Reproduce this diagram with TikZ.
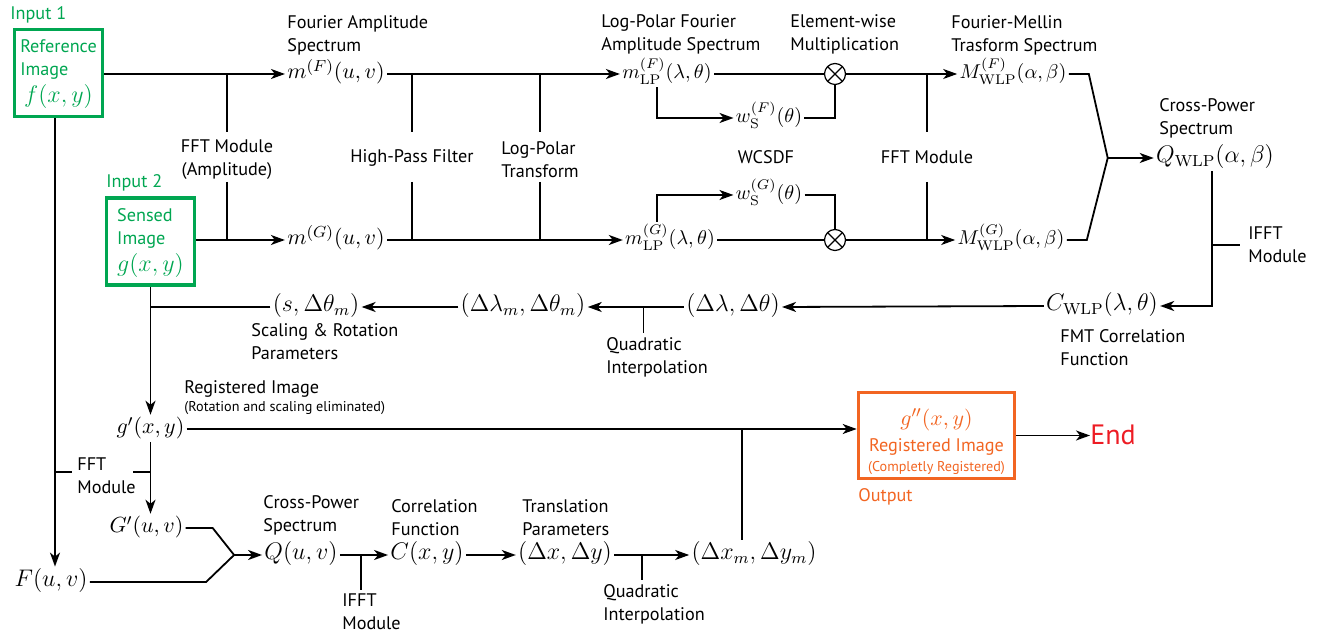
\documentclass[tikz,border=0pt]{standalone}
\usepackage{amsmath}
\usepackage[no-math]{fontspec}
\setmainfont{PT Sans}
\usetikzlibrary{arrows.meta,positioning,calc}
\definecolor{ingreen}{RGB}{0,166,81}
\definecolor{outorange}{RGB}{242,101,34}
\definecolor{endred}{RGB}{237,28,36}

\begin{document}
\begin{tikzpicture}[x=0.5pt,y=-0.5pt,
   every node/.style={inner sep=1pt},
   lbl/.style={font=\fontsize{9.1}{11.5}\selectfont,align=left,inner sep=0pt,anchor=west},
   clbl/.style={font=\fontsize{9.1}{11.5}\selectfont,align=center,inner sep=0pt},
   ma/.style={font=\fontsize{11}{13}\selectfont,anchor=mid},
   mb/.style={font=\fontsize{12}{14}\selectfont,anchor=mid},
   mc/.style={font=\fontsize{10}{12}\selectfont,anchor=mid},
   ln/.style={line width=0.9pt},
   arr/.style={ln,-{Stealth[length=7pt,width=5pt,inset=2pt]}},
   inbox/.style={draw=ingreen,line width=1.8pt,text=ingreen,minimum width=44pt,
                 minimum height=43.5pt,inner sep=0pt,font=\fontsize{9.1}{11.5}\selectfont},
   outbox/.style={draw=outorange,line width=1.8pt,text=outorange,minimum width=78pt,
                  minimum height=43pt,align=center,inner sep=0pt,font=\fontsize{9.1}{13}\selectfont},
   mult/.style={draw,line width=0.6pt,circle,minimum size=10.5pt,inner sep=0pt,
                path picture={\draw[line width=0.6pt]
                  (path picture bounding box.north west) -- (path picture bounding box.south east)
                  (path picture bounding box.north east) -- (path picture bounding box.south west);}}
]
\useasboundingbox (0,0) rectangle (1323,635);
\coordinate (stubtop) at (0,132);
\coordinate (stubbot) at (0,182);

% inputs
\node[inbox] (ref) at (58.5,73) {\begin{tabular}{@{}l@{}}Reference\\Image\\[1pt]
   \multicolumn{1}{@{}c@{}}{\fontsize{12.5}{14}\selectfont$f(x,y)$}\end{tabular}};
\node[lbl,text=ingreen] (in1) at (10,15) {Input 1};
\node[inbox] (sens) at (150.5,241.5) {\begin{tabular}{@{}l@{}}Sensed\\Image\\[1pt]
   {\fontsize{12.5}{14}\selectfont$g(x,y)$}\end{tabular}};
\node[lbl,text=ingreen] (in2) at (106,183) {Input 2};

% amplitude spectra
\node[ma] (mF) at (336,74) {$m^{(F)}(u,v)$};
\node[ma] (mG) at (336,240) {$m^{(G)}(u,v)$};
\node[lbl] (fas) at (287,35) {Fourier Amplitude\\Spectrum};
\node[clbl] (fftA) at (227,160) {FFT Module\\(Amplitude)};
\node[clbl] (hpf) at (412,158) {High-Pass Filter};
\node[lbl] (lpt) at (501,160) {Log-Polar\\Transform};
\draw[arr] (ref.east |- mF.mid) -- (mF.mid west);
\draw[arr] (sens.east |- mG.mid) -- (mG.mid west);
\draw[ln] (fftA |- mF.mid) -- (fftA |- stubtop);
\draw[ln] (fftA |- stubbot) -- (fftA |- mG.mid);
\draw[ln] (hpf |- mF.mid) -- (hpf |- stubtop);
\draw[ln] (hpf |- stubbot) -- (hpf |- mG.mid);
\draw[ln] (lpt |- mF.mid) -- (lpt |- stubtop);
\draw[ln] (lpt |- stubbot) -- (lpt |- mG.mid);

% log-polar spectra and weighting
\node[mc] (mLPF) at (667,74) {$m^{(F)}_{\mathrm{LP}}(\lambda,\theta)$};
\node[mc] (mLPG) at (670,240) {$m^{(G)}_{\mathrm{LP}}(\lambda,\theta)$};
\node[lbl] (lpa) at (601,34) {Log-Polar Fourier\\Amplitude Spectrum};
\node[mc] (wSF) at (769,118) {$w^{(F)}_{\mathrm{S}}(\theta)$};
\node[mc] (wSG) at (769,195) {$w^{(G)}_{\mathrm{S}}(\theta)$};
\node[mult] (mulF) at (835,74) {};
\node[mult] (mulG) at (835,240) {};
\node[lbl] (ewm) at (790,34) {Element-wise\\Multiplication};
\node[clbl] (wcs) at (766,157) {WCSDF};
\draw[arr] (mF.mid east) -- (mLPF.mid west);
\draw[arr] (mG.mid east) -- (mLPG.mid west);
\draw[arr] ([xshift=-5pt]mLPF.south) |- (wSF.mid west);
\draw[arr] ([xshift=-6.5pt]mLPG.north) |- (wSG.mid west);
\draw[ln] (mLPF.mid east) -- (mulF.west);
\draw[ln] (mLPG.mid east) -- (mulG.west);
\draw[ln] (wSF.mid east) -| (mulF.south);
\draw[ln] (wSG.mid east) -| (mulG.north);

% Fourier-Mellin spectra
\node[mc] (MF) at (1013,74) {$M^{(F)}_{\mathrm{WLP}}(\alpha,\beta)$};
\node[mc] (MG) at (1011,240) {$M^{(G)}_{\mathrm{WLP}}(\alpha,\beta)$};
\node[lbl] (fms) at (951,35) {Fourier-Mellin\\Trasform Spectrum};
\node[clbl] (fft2) at (927,157) {FFT Module};
\draw[arr] (mulF.east) -- (MF.mid west);
\draw[arr] (mulG.east) -- (MG.mid west);
\draw[ln] (fft2 |- mF.mid) -- (fft2 |- stubtop);
\draw[ln] (fft2 |- stubbot) -- (fft2 |- mG.mid);

% cross-power spectrum and correlation
\node[mb] (QW) at (1215,158) {$Q_{\mathrm{WLP}}(\alpha,\beta)$};
\node[lbl] (cps1) at (1159,118) {Cross-Power\\Spectrum};
\node[mb] (CW) at (1102,306) {$C_{\mathrm{WLP}}(\lambda,\theta)$};
\node[lbl] (fcf) at (1060,348) {FMT Correlation\\Function};
\node[lbl] (ifft1) at (1248,245) {IFFT\\Module};
\coordinate (jW) at ($(QW.mid west)+(-46,0)$);
\draw[ln] (MF.mid east) -- ++(20,0) -- (jW);
\draw[ln] (MG.mid east) -- ++(20,0) -- (jW);
\draw[arr] (jW) -- (QW.mid west);
\coordinate (qdown) at ([xshift=-1.5pt]QW.south);
\draw[arr] (qdown) |- (CW.mid east);
\draw[ln] (qdown |- ifft1.west) -- ([xshift=-4pt]ifft1.west);

% scaling and rotation parameters
\node[mb] (Dl) at (733,307) {$(\Delta\lambda,\Delta\theta)$};
\node[mb] (Dlm) at (523,307) {$(\Delta\lambda_m,\Delta\theta_m)$};
\node[mb] (sdt) at (316,307) {$(s,\Delta\theta_m)$};
\node[lbl] (qi1) at (606,357) {Quadratic\\Interpolation};
\node[lbl] (srp) at (251,342) {Scaling \& Rotation\\Parameters};
\draw[arr] (CW.mid west) -- (Dl.mid east);
\draw[arr] (Dl.mid west) -- coordinate[pos=0.42] (qa) (Dlm.mid east);
\draw[ln,shorten >=2pt] (qa) -- (qa |- qi1.north);
\draw[arr] (Dlm.mid west) -- (sdt.mid east);
\draw[ln] (sdt.mid west) -- (sdt.mid west -| sens.south);

% registered image and output
\node[ma] (gp) at (150.5,429) {$g'(x,y)$};
\node[lbl] (rgi) at (184,389) {Registered Image};
\node[lbl,font=\fontsize{7.1}{8}\selectfont] (rgs) at (184,408) {(Rotation and scaling eliminated)};
\node[outbox] (outb) at (936.5,435.5) {\rule{0pt}{15pt}{\fontsize{11}{13}\selectfont$g''(x,y)$}\\Registered Image\\[-3pt]
   {\fontsize{7.1}{8}\selectfont(Completly Registered)}};
\node[lbl,text=outorange] (outl) at (858,497) {Output};
\node[lbl,text=endred,font=\fontsize{14}{16}\selectfont] (endn) at (1090,435) {End};
\draw[arr] (sens.south) -- (gp.north);
\draw[arr] (gp.mid east) -- (gp.mid east -| outb.west);
\draw[arr] (outb.east) -- (outb.east -| endn.west);

% translation branch
\node[ma] (Gp) at (146.5,528) {$G'(u,v)$};
\node[mb] (Fuv) at (51,582) {$F(u,v)$};
\node[lbl] (fftB) at (77,476) {FFT\\Module};
\node[mb] (Quv) at (301,555) {$Q(u,v)$};
\node[lbl] (cps2) at (263,515) {Cross-Power\\Spectrum};
\node[lbl] (ifft2) at (342,612) {IFFT\\Module};
\node[mb] (Cxy) at (427,555) {$C(x,y)$};
\node[lbl] (cf) at (391,518) {Correlation\\Function};
\node[mb] (Dxy) at (565,555) {$(\Delta x,\Delta y)$};
\node[lbl] (tp) at (522,518) {Translation\\Parameters};
\node[mb] (Dxm) at (754,555) {$(\Delta x_m,\Delta y_m)$};
\node[lbl] (qi2) at (603,604) {Quadratic\\Interpolation};
\draw[arr] (gp.south) -- (gp.south |- Gp.north);
\coordinate (fdown) at ([xshift=-1.75pt]ref.south);
\draw[arr] (fdown) -- (fdown |- Fuv.north);
\coordinate (fstub) at ($(fftB.west)+(0,-4)$);
\draw[ln] (fdown |- fstub) -- ($(fstub)+(-5,0)$);
\draw[ln] (gp.south |- fstub) -- ($(fstub)+(56,0)$);
\coordinate (jq) at ($(Quv.mid west)+(-28,0)$);
\draw[ln] (Gp.mid east) -- ++(27,0) -- (jq);
\draw[ln] (Fuv.mid east) -- ($(jq |- Fuv.mid)+(-28,0)$) -- (jq);
\draw[arr] (jq) -- (Quv.mid west);
\draw[arr] (Quv.mid east) -- coordinate[pos=0.43] (qb) (Cxy.mid west);
\draw[ln,shorten >=2pt] (qb) -- (qb |- ifft2.north);
\draw[arr] (Cxy.mid east) -- (Dxy.mid west);
\draw[arr] (Dxy.mid east) -- coordinate[pos=0.37] (qc) (Dxm.mid west);
\draw[ln,shorten >=2pt] (qc) -- (qc |- qi2.north);
\coordinate (dup) at ([xshift=-6pt]Dxm.north);
\draw[ln] (dup) -- (dup |- gp.mid);

\end{tikzpicture}
\end{document}
